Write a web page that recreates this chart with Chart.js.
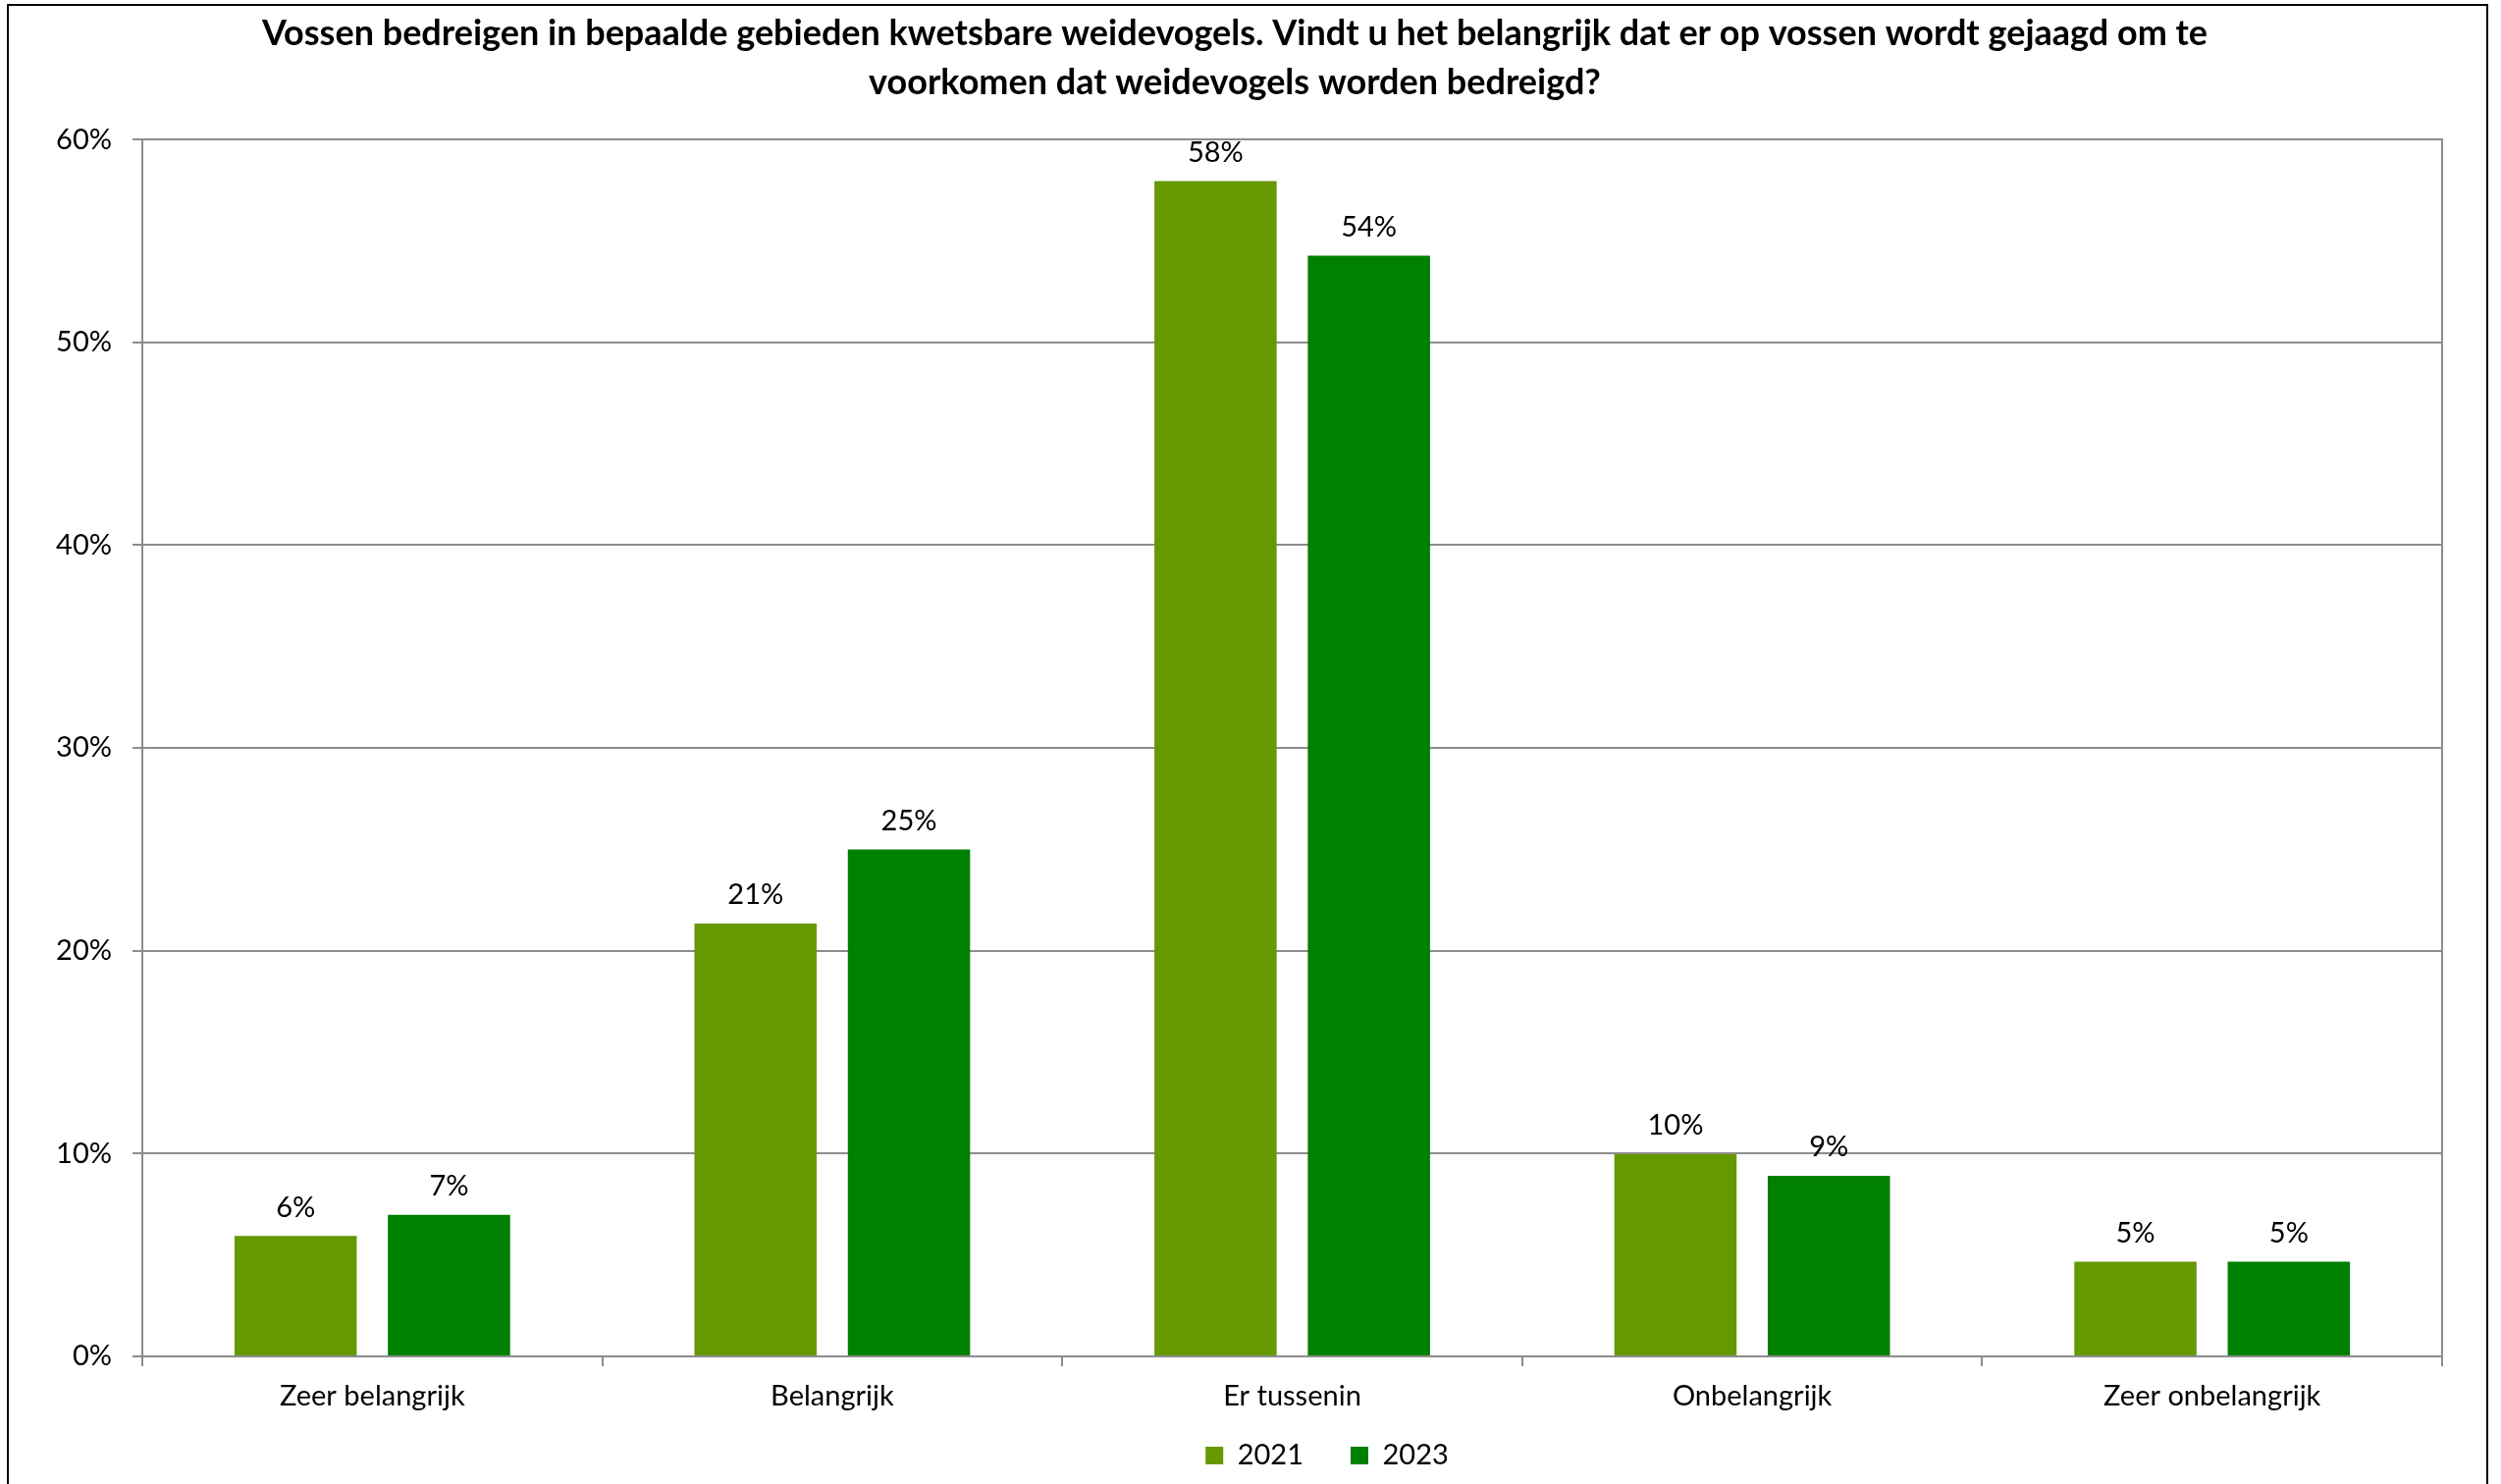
<!DOCTYPE html>
<html>
<head>
<meta charset="utf-8">
<script src="https://cdn.jsdelivr.net/npm/chart.js@4/dist/chart.umd.min.js"></script>
<style>
  html, body { margin: 0; padding: 0; background: #ffffff; overflow: hidden; width: 2548px; height: 1512px; }
  #wrap { position: absolute; left: 0; top: 0; width: 2548px; height: 1512px; }
  #frame { position: absolute; left: 7px; top: 4px; width: 2524px; height: 1700px; border: 2px solid #000; pointer-events: none; }
</style>
</head>
<body>
<div id="wrap"><canvas id="c" width="2548" height="1512"></canvas></div>
<div id="frame"></div>
<script>
const titleLines = [
  'Vossen bedreigen in bepaalde gebieden kwetsbare weidevogels. Vindt u het belangrijk dat er op vossen wordt gejaagd om te',
  'voorkomen dat weidevogels worden bedreigd?'
];
const categories = ['Zeer belangrijk', 'Belangrijk', 'Er tussenin', 'Onbelangrijk', 'Zeer onbelangrijk'];
const seriesNames = ['2021', '2023'];
const values2021 = [5.94, 21.34, 57.95, 9.97, 4.67];
const values2023 = [6.98, 25.0, 54.27, 8.9, 4.67];
const yTicks = [0, 10, 20, 30, 40, 50, 60];

const FONT = 'Lato';
const GRAY = '#8c8c8c';

const labelPlugin = {
  id: 'barLabels',
  afterDatasetsDraw(chart) {
    const ctx = chart.ctx;
    ctx.save();
    ctx.font = '29px ' + FONT;
    ctx.fillStyle = '#000';
    ctx.textAlign = 'center';
    ctx.textBaseline = 'middle';
    chart.data.datasets.forEach((ds, di) => {
      const meta = chart.getDatasetMeta(di);
      meta.data.forEach((el, i) => {
        ctx.fillText(Math.round(ds.data[i]) + '%', el.x, el.y - 29);
      });
    });
    ctx.restore();
  }
};

const placePlugin = {
  id: 'place',
  beforeDraw(chart) {
    const t = chart.titleBlock;
    if (t) { const w = t.right - t.left; t.left = 1258 - w / 2; t.right = t.left + w; }
    const l = chart.legend;
    if (l) {
      const w = l.right - l.left; l.left = 1352 - w / 2; l.right = l.left + w;
      const h = l.bottom - l.top; l.top = 1483 - 14.5 - 48; l.bottom = l.top + h;
    }
  }
};

new Chart(document.getElementById('c'), {
  type: 'bar',
  data: {
    labels: categories,
    datasets: [
      { label: seriesNames[0], data: values2021, backgroundColor: '#669900', borderWidth: 0 },
      { label: seriesNames[1], data: values2023, backgroundColor: '#008000', borderWidth: 0 }
    ]
  },
  options: {
    responsive: false,
    devicePixelRatio: 1,
    animation: false,
    layout: { padding: { left: 10, right: 60, top: 0, bottom: -40 } },
    datasets: { bar: { categoryPercentage: 0.667, barPercentage: 0.797 } },
    plugins: {
      title: {
        display: true,
        text: titleLines,
        color: '#000',
        font: { family: FONT, size: 36, weight: 'bold', lineHeight: 1.378 },
        padding: { top: 10, bottom: 33 }
      },
      legend: {
        display: true,
        position: 'bottom',
        labels: {
          color: '#000',
          font: { family: FONT, size: 29 },
          boxWidth: 18,
          boxHeight: 18,
          padding: 48
        }
      },
      tooltip: { enabled: false }
    },
    scales: {
      x: {
        grid: { display: true, drawOnChartArea: false, drawTicks: true, tickLength: 10, color: GRAY, lineWidth: 2 },
        border: { display: true, color: GRAY, width: 2 },
        ticks: { color: '#000', font: { family: FONT, size: 29 }, padding: 13, maxRotation: 0 },
        afterFit: s => { s.height = 83; }
      },
      y: {
        min: yTicks[0],
        max: yTicks[yTicks.length - 1],
        afterBuildTicks: s => { s.ticks = yTicks.map(v => ({ value: v })); },
        grid: { color: GRAY, lineWidth: 2, tickLength: 10, drawTicks: true },
        border: { display: true, color: GRAY, width: 2 },
        ticks: { color: '#000', font: { family: FONT, size: 29 }, padding: 21, callback: v => v + '%' },
        afterFit: s => { s.width = 135; }
      },
      y2: {
        position: 'right',
        display: true,
        grid: { display: false },
        border: { display: true, color: GRAY, width: 2 },
        ticks: { display: false },
        afterFit: s => { s.width = 0; }
      }
    }
  },
  plugins: [labelPlugin, placePlugin]
});
</script>
</body>
</html>
